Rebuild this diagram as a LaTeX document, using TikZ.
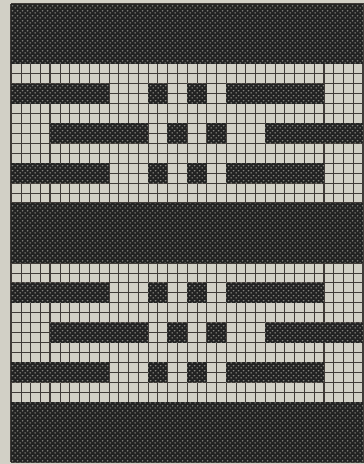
\documentclass[tikz,border=0pt]{standalone}
\usetikzlibrary{patterns}
\definecolor{paper}{HTML}{D2D0C6}
\definecolor{ink}{HTML}{222222}
\definecolor{speck}{HTML}{8E8D87}
\definecolor{gridc}{HTML}{403B38}
\pgfdeclarepatternformonly{knitdots}{\pgfpointorigin}{\pgfqpoint{4.9pt}{5pt}}{\pgfqpoint{4.9pt}{5pt}}{%
  \pgfpathellipse{\pgfqpoint{1.2pt}{1.25pt}}{\pgfqpoint{0.95pt}{0pt}}{\pgfqpoint{0pt}{0.8pt}}%
  \pgfpathellipse{\pgfqpoint{3.65pt}{3.75pt}}{\pgfqpoint{0.95pt}{0pt}}{\pgfqpoint{0pt}{0.8pt}}%
  \pgfusepath{fill}}
\newcommand\cwid{9.7778}
\newcommand\chgt{9.9565}
\newcommand\stitchblock[4]{%
  \fill[stitch] ({11+#1*\cwid},{4+#3*\chgt}) rectangle ({11+#2*\cwid},{4+#4*\chgt});
  \fill[speckle] ({11+#1*\cwid},{4+#3*\chgt}) rectangle ({11+#2*\cwid},{4+#4*\chgt});}
\begin{document}
\begin{tikzpicture}[x=1pt,y=-1pt,
  minorline/.style={draw=gridc,line width=0.5pt},
  majorline/.style={draw=gridc,line width=1.3pt},
  stitch/.style={fill=ink},
  speckle/.style={pattern=knitdots,pattern color=speck}]
\useasboundingbox (0,0) rectangle (364,464);
\fill[paper] (0,0) rectangle (364,464);
% grid
\foreach \c in {0,...,36}{
  \pgfmathsetmacro\xx{11+\c*\cwid}
  \pgfmathtruncatemacro\m{mod(\c,4)}
  \ifnum\m=0 \draw[majorline] (\xx,4) -- (\xx,462);
  \else \draw[minorline] (\xx,4) -- (\xx,462); \fi
}
\foreach \r in {0,...,46}{
  \pgfmathsetmacro\yy{4+\r*\chgt}
  \pgfmathtruncatemacro\m{mod(\r,4)}
  \ifnum\m=0 \draw[majorline] (11,\yy) -- (364,\yy);
  \else \draw[minorline] (11,\yy) -- (364,\yy); \fi
}
% solid bands
\foreach \r in {0,20,40}{
  \pgfmathtruncatemacro\re{\r+6}
  \stitchblock{0}{36}{\r}{\re}
}
% pattern rows A
\foreach \r in {8,16,28,36}{
  \pgfmathtruncatemacro\re{\r+2}
  \stitchblock{0}{10}{\r}{\re}
  \stitchblock{14}{16}{\r}{\re}
  \stitchblock{18}{20}{\r}{\re}
  \stitchblock{22}{32}{\r}{\re}
}
% pattern rows B
\foreach \r in {12,32}{
  \pgfmathtruncatemacro\re{\r+2}
  \stitchblock{4}{14}{\r}{\re}
  \stitchblock{16}{18}{\r}{\re}
  \stitchblock{20}{22}{\r}{\re}
  \stitchblock{26}{36}{\r}{\re}
}
\end{tikzpicture}
\end{document}
